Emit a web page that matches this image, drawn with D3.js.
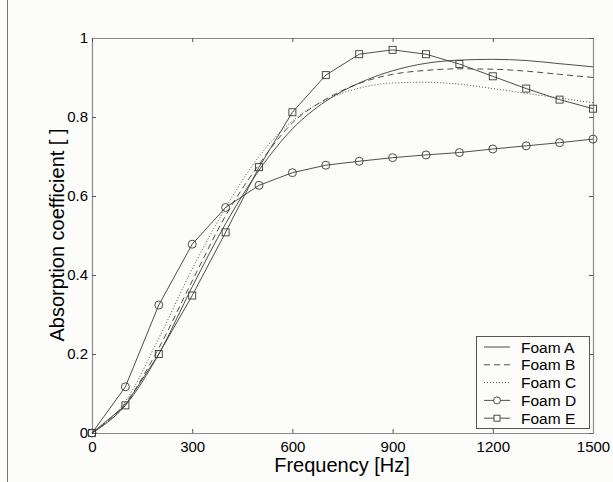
<!DOCTYPE html>
<html>
<head>
<meta charset="utf-8">
<script src="https://cdn.jsdelivr.net/npm/d3@7"></script>
<style>
  body { margin: 0; background: #fcfcfa; }
  svg { display: block; font-family: "Liberation Sans", Arial, sans-serif; }
</style>
</head>
<body>
<script>
// chart size
var width = 613;
var height = 482;

// data (frequency in Hz)
var freqs = [0, 100, 200, 300, 400, 500, 600, 700, 800, 900, 1000, 1100, 1200, 1300, 1400, 1500];
var foamA = [0, 0.07, 0.20, 0.37, 0.53, 0.665, 0.77, 0.84, 0.886, 0.917, 0.936, 0.944, 0.946, 0.943, 0.935, 0.927];
var foamB = [0, 0.075, 0.215, 0.385, 0.55, 0.68, 0.785, 0.845, 0.885, 0.908, 0.918, 0.922, 0.921, 0.916, 0.908, 0.90];
var foamC = [0, 0.08, 0.24, 0.415, 0.57, 0.70, 0.79, 0.843, 0.873, 0.886, 0.888, 0.883, 0.872, 0.86, 0.848, 0.836];
var foamD = [0, 0.117, 0.324, 0.478, 0.571, 0.627, 0.659, 0.678, 0.688, 0.697, 0.704, 0.710, 0.719, 0.727, 0.735, 0.744];
var foamE = [0, 0.070, 0.200, 0.348, 0.508, 0.673, 0.812, 0.906, 0.959, 0.970, 0.959, 0.934, 0.903, 0.872, 0.844, 0.821];
var xTicks = [0, 300, 600, 900, 1200, 1500];
var yTicks = [0, 0.2, 0.4, 0.6, 0.8, 1];

var series = [
  {name: "Foam A", values: foamA, dash: null, marker: null, smooth: true},
  {name: "Foam B", values: foamB, dash: "6,4", marker: null, smooth: true},
  {name: "Foam C", values: foamC, dash: "1,2", marker: null, smooth: true},
  {name: "Foam D", values: foamD, dash: null, marker: "circle", smooth: false},
  {name: "Foam E", values: foamE, dash: null, marker: "square", smooth: false}
];

var lineColor = "#3a3a3a";
var axisColor = "#8a8a8a";

var svg = d3.select("body").append("svg")
  .attr("width", width)
  .attr("height", height);

svg.append("rect").attr("width", width).attr("height", height).attr("fill", "#fcfcfa");

// stray frame line on the left edge of the figure
svg.append("line")
  .attr("x1", 7.5).attr("x2", 7.5).attr("y1", 0).attr("y2", height)
  .attr("stroke", "#777").attr("stroke-width", 1);

// plot box is 92..593 wide, 38..433 high
var x = d3.scaleLinear().domain([0, 1500]).range([92, 593]);
var y = d3.scaleLinear().domain([0, 1]).range([433, 38]);

// axes (ticks inward, on all four sides)
var tickLen = 4;
var gx = svg.append("g").attr("transform", "translate(0,433)")
  .call(d3.axisBottom(x).tickValues(xTicks).tickSizeInner(-tickLen).tickSizeOuter(0).tickPadding(8).tickFormat(d3.format("d")));
var gy = svg.append("g").attr("transform", "translate(92,0)")
  .call(d3.axisLeft(y).tickValues(yTicks).tickSizeInner(-tickLen).tickSizeOuter(0).tickPadding(4).tickFormat(function (d) { return d === 0 || d === 1 ? d : d.toFixed(1); }));
var gxt = svg.append("g").attr("transform", "translate(0,38)")
  .call(d3.axisTop(x).tickValues(xTicks).tickSizeInner(-tickLen).tickSizeOuter(0).tickFormat(""));
var gyr = svg.append("g").attr("transform", "translate(593,0)")
  .call(d3.axisRight(y).tickValues(yTicks).tickSizeInner(-tickLen).tickSizeOuter(0).tickFormat(""));

[gx, gy, gxt, gyr].forEach(function (g) {
  g.select(".domain").attr("stroke", axisColor).attr("stroke-width", 1.2);
  g.selectAll(".tick line").attr("stroke", "#555");
  g.selectAll(".tick text").attr("fill", "#000").style("font-size", "15px").style("font-family", "Liberation Sans, Arial, sans-serif");
});

// axis titles
svg.append("text")
  .attr("x", 342).attr("y", 472)
  .attr("text-anchor", "middle")
  .style("font-size", "20px")
  .text("Frequency [Hz]");

svg.append("text")
  .attr("transform", "translate(64,235) rotate(-90)")
  .attr("text-anchor", "middle")
  .style("font-size", "20px")
  .text("Absorption coefficient [ ]");

// lines
var plot = svg.append("g");

series.forEach(function (s) {
  var pts = freqs.map(function (f, i) { return [f, s.values[i]]; });
  var line = d3.line()
    .x(function (d) { return x(d[0]); })
    .y(function (d) { return y(d[1]); })
    .curve(s.smooth ? d3.curveMonotoneX : d3.curveLinear);
  plot.append("path")
    .datum(pts)
    .attr("d", line)
    .attr("fill", "none")
    .attr("stroke", lineColor)
    .attr("stroke-width", 0.9)
    .attr("stroke-dasharray", s.dash);

  if (s.marker === "circle") {
    plot.selectAll(null).data(pts).enter().append("circle")
      .attr("cx", function (d) { return x(d[0]); })
      .attr("cy", function (d) { return y(d[1]); })
      .attr("r", 4)
      .attr("fill", "none").attr("stroke", lineColor).attr("stroke-width", 0.9);
  } else if (s.marker === "square") {
    plot.selectAll(null).data(pts).enter().append("rect")
      .attr("x", function (d) { return x(d[0]) - 3.5; })
      .attr("y", function (d) { return y(d[1]) - 3.5; })
      .attr("width", 7).attr("height", 7)
      .attr("fill", "none").attr("stroke", lineColor).attr("stroke-width", 0.9);
  }
});

// legend
var legend = svg.append("g");
legend.append("rect")
  .attr("x", 476.5).attr("y", 336.5)
  .attr("width", 113).attr("height", 92)
  .attr("fill", "#fcfcfa").attr("stroke", "#555").attr("stroke-width", 1);

series.forEach(function (s, i) {
  var ly = 347 + i * 17.8;
  legend.append("line")
    .attr("x1", 484).attr("x2", 510).attr("y1", ly).attr("y2", ly)
    .attr("stroke", lineColor).attr("stroke-width", 0.9)
    .attr("stroke-dasharray", s.dash);
  if (s.marker === "circle") {
    legend.append("circle").attr("cx", 497).attr("cy", ly).attr("r", 3.5)
      .attr("fill", "#fcfcfa").attr("stroke", lineColor).attr("stroke-width", 0.9);
  } else if (s.marker === "square") {
    legend.append("rect").attr("x", 494).attr("y", ly - 3).attr("width", 6).attr("height", 6)
      .attr("fill", "#fcfcfa").attr("stroke", lineColor).attr("stroke-width", 0.9);
  }
  legend.append("text")
    .attr("x", 521).attr("y", ly + 5.5)
    .style("font-size", "15.5px")
    .text(s.name);
});
</script>
</body>
</html>
